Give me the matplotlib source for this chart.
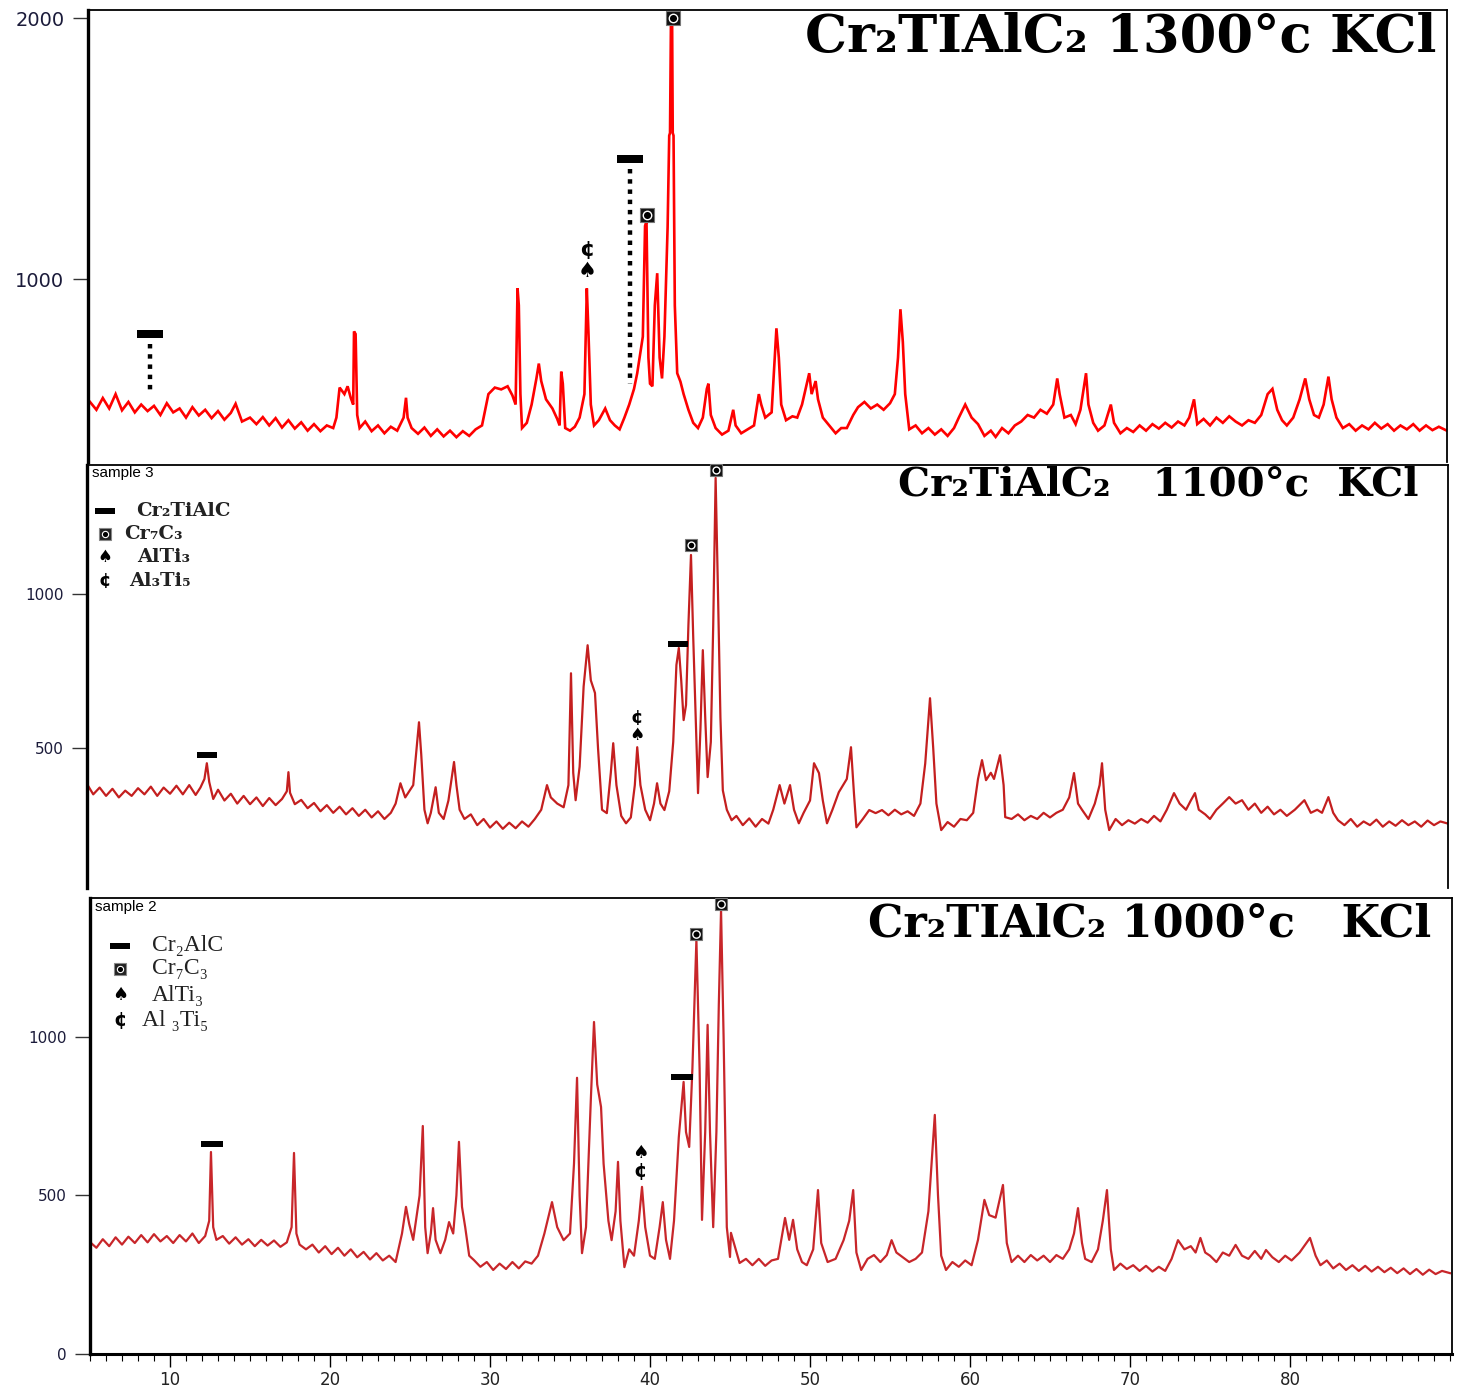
import numpy as np
import matplotlib.pyplot as plt

# XRD patterns (2theta, counts)
pattern_1300 = [
    (5.0, 530), (5.4, 500), (5.8, 545), (6.2, 505), (6.6, 560), (7.0, 498), (7.4, 530), (7.8, 490),
    (8.2, 520), (8.6, 495), (9.0, 515), (9.4, 480), (9.8, 525), (10.2, 490), (10.6, 505), (11.0, 470),
    (11.4, 510), (11.8, 478), (12.2, 500), (12.6, 468), (13.0, 495), (13.4, 462), (13.8, 488), (14.1, 523),
    (14.5, 455), (15.0, 470), (15.4, 445), (15.8, 472), (16.2, 440), (16.6, 468), (17.0, 432), (17.4, 460),
    (17.8, 428), (18.2, 452), (18.6, 420), (19.0, 445), (19.4, 418), (19.8, 440), (20.2, 430), (20.4, 470),
    (20.6, 585), (20.9, 560), (21.1, 590), (21.3, 545), (21.45, 520), (21.5, 800), (21.6, 790), (21.7, 480),
    (21.85, 430), (22.2, 455), (22.6, 418), (23.0, 440), (23.4, 410), (23.8, 435), (24.2, 420), (24.6, 470),
    (24.75, 546), (24.85, 470), (25.1, 430), (25.5, 408), (25.9, 432), (26.3, 400), (26.7, 425), (27.1, 398),
    (27.5, 420), (27.9, 395), (28.3, 418), (28.7, 400), (29.1, 425), (29.5, 440), (29.9, 560), (30.3, 585),
    (30.7, 578), (31.1, 590), (31.4, 555), (31.6, 520), (31.72, 965), (31.8, 900), (31.9, 560), (32.0, 430),
    (32.3, 450), (32.6, 520), (32.9, 620), (33.05, 677), (33.2, 610), (33.5, 540), (33.9, 505), (34.2, 465),
    (34.35, 440), (34.45, 646), (34.55, 600), (34.7, 430), (35.0, 420), (35.3, 435), (35.6, 470), (35.9, 560),
    (36.05, 965), (36.15, 800), (36.3, 520), (36.5, 440), (36.8, 460), (37.2, 505), (37.5, 460), (37.8, 440),
    (38.1, 425), (38.4, 470), (38.7, 520), (39.0, 580), (39.2, 640), (39.4, 720), (39.55, 780), (39.69, 1204),
    (39.78, 1223), (39.9, 700), (40.0, 600), (40.15, 590), (40.3, 900), (40.45, 1023), (40.6, 700), (40.75, 620),
    (40.9, 780), (41.1, 1200), (41.2, 1550), (41.25, 1560), (41.31, 2000), (41.38, 2000), (41.42, 1560),
    (41.47, 1550), (41.55, 900),
    (41.7, 640), (41.9, 608), (42.1, 560), (42.4, 500), (42.7, 450), (43.0, 430), (43.3, 470), (43.55, 580),
    (43.65, 600), (43.8, 480), (44.1, 430), (44.5, 405), (44.9, 420), (45.2, 500), (45.35, 440), (45.7, 410),
    (46.1, 425), (46.5, 440), (46.8, 560), (46.95, 520), (47.2, 470), (47.6, 490), (47.9, 812), (48.05, 700),
    (48.2, 520), (48.5, 460), (48.9, 475), (49.2, 470), (49.5, 520), (49.8, 600), (49.95, 640), (50.1, 560),
    (50.35, 610), (50.5, 540), (50.8, 470), (51.2, 440), (51.6, 410), (51.95, 430), (52.3, 430), (52.7, 480),
    (53.0, 510), (53.4, 530), (53.8, 505), (54.2, 520), (54.6, 500), (55.0, 525), (55.3, 560), (55.5, 700),
    (55.65, 885), (55.8, 760), (55.95, 560), (56.2, 425), (56.6, 440), (57.0, 410), (57.4, 430), (57.8, 405),
    (58.2, 425), (58.6, 400), (59.0, 430), (59.3, 470), (59.7, 520), (60.1, 470), (60.5, 445), (60.9, 400),
    (61.3, 420), (61.6, 396), (62.0, 430), (62.4, 410), (62.8, 440), (63.2, 455), (63.6, 480), (64.0, 470),
    (64.4, 500), (64.8, 485), (65.2, 520), (65.45, 620), (65.6, 560), (65.9, 470), (66.3, 480), (66.6, 445),
    (66.9, 500), (67.25, 640), (67.4, 520), (67.7, 450), (68.0, 420), (68.4, 440), (68.8, 520), (69.0, 450),
    (69.4, 410), (69.8, 430), (70.2, 415), (70.6, 440), (71.0, 420), (71.4, 445), (71.8, 428), (72.2, 450),
    (72.6, 432), (73.0, 455), (73.4, 440), (73.7, 470), (74.0, 540), (74.2, 445), (74.6, 465), (75.0, 440),
    (75.4, 470), (75.8, 450), (76.2, 475), (76.6, 455), (77.0, 440), (77.4, 460), (77.8, 450), (78.2, 480),
    (78.6, 560), (78.9, 580), (79.2, 500), (79.5, 460), (79.8, 440), (80.2, 470), (80.6, 540), (80.95, 620),
    (81.2, 540), (81.5, 480), (81.8, 470), (82.1, 520), (82.4, 627), (82.6, 540), (82.9, 470), (83.3, 430),
    (83.7, 445), (84.1, 420), (84.5, 440), (84.9, 425), (85.3, 450), (85.7, 428), (86.1, 445), (86.5, 420),
    (86.9, 440), (87.3, 425), (87.7, 445), (88.1, 420), (88.5, 440), (88.9, 422), (89.3, 435), (89.8, 420),
]

pattern_1100 = [
    (4.85, 380), (5.2, 350), (5.6, 372), (6.0, 345), (6.4, 368), (6.8, 340), (7.2, 362), (7.6, 345),
    (8.0, 370), (8.4, 350), (8.8, 375), (9.2, 345), (9.6, 372), (10.0, 352), (10.4, 378), (10.8, 350),
    (11.2, 380), (11.6, 348), (11.9, 372), (12.15, 400), (12.3, 451), (12.45, 390), (12.7, 335), (13.0, 365),
    (13.4, 330), (13.8, 352), (14.2, 320), (14.6, 345), (15.0, 318), (15.4, 340), (15.8, 312), (16.2, 338),
    (16.6, 315), (17.0, 335), (17.3, 360), (17.4, 422), (17.5, 355), (17.8, 318), (18.2, 332), (18.6, 305),
    (19.0, 322), (19.4, 295), (19.8, 315), (20.2, 290), (20.6, 310), (21.0, 285), (21.4, 305), (21.8, 280),
    (22.2, 300), (22.6, 275), (23.0, 295), (23.4, 270), (23.8, 290), (24.1, 320), (24.4, 386), (24.7, 340),
    (25.2, 380), (25.45, 520), (25.56, 584), (25.7, 480), (25.9, 300), (26.1, 256), (26.3, 290), (26.6, 373),
    (26.8, 290), (27.1, 270), (27.4, 330), (27.75, 455), (27.9, 380), (28.1, 300), (28.4, 270), (28.8, 285),
    (29.2, 250), (29.6, 270), (30.0, 242), (30.4, 262), (30.8, 238), (31.2, 258), (31.6, 240), (32.0, 262),
    (32.4, 245), (32.8, 270), (33.2, 300), (33.56, 380), (33.8, 340), (34.2, 320), (34.6, 308), (34.9, 380),
    (35.06, 743), (35.2, 420), (35.35, 331), (35.6, 440), (35.85, 700), (36.1, 834), (36.3, 720), (36.56, 679),
    (36.75, 500), (37.0, 300), (37.3, 289), (37.55, 420), (37.7, 516), (37.9, 380), (38.2, 280), (38.5, 256),
    (38.8, 275), (39.05, 380), (39.2, 503), (39.4, 380), (39.7, 300), (40.0, 266), (40.25, 320), (40.44, 386),
    (40.65, 320), (40.9, 299), (41.2, 360), (41.45, 520), (41.65, 770), (41.8, 825), (41.95, 720), (42.1, 591),
    (42.25, 640), (42.4, 900), (42.56, 1127), (42.7, 860), (42.9, 520), (43.0, 354), (43.15, 560), (43.3, 818),
    (43.45, 600), (43.6, 406), (43.8, 520), (43.95, 900), (44.1, 1377), (44.25, 1000), (44.4, 600), (44.55, 363),
    (44.8, 300), (45.1, 266), (45.4, 280), (45.8, 250), (46.2, 272), (46.6, 245), (47.0, 270), (47.4, 255),
    (47.7, 300), (48.1, 380), (48.4, 320), (48.75, 380), (49.0, 300), (49.3, 256), (49.6, 290), (50.0, 330),
    (50.25, 451), (50.56, 419), (50.8, 330), (51.06, 256), (51.4, 300), (51.8, 357), (52.3, 400), (52.56, 503),
    (52.75, 350), (52.9, 243), (53.3, 270), (53.7, 299), (54.1, 289), (54.5, 299), (54.9, 282), (55.3, 300),
    (55.7, 285), (56.1, 295), (56.5, 280), (56.9, 320), (57.2, 450), (57.5, 662), (57.7, 500), (57.9, 320),
    (58.2, 234), (58.6, 260), (59.0, 245), (59.4, 270), (59.8, 266), (60.2, 290), (60.5, 400), (60.75, 461),
    (61.0, 396), (61.3, 420), (61.5, 400), (61.875, 477), (62.1, 380), (62.2, 276), (62.6, 270), (63.0, 285),
    (63.4, 266), (63.8, 280), (64.2, 270), (64.6, 290), (65.0, 275), (65.4, 290), (65.8, 300), (66.2, 340),
    (66.5, 419), (66.75, 320), (67.0, 300), (67.4, 270), (67.8, 320), (68.1, 380), (68.25, 451), (68.45, 300),
    (68.7, 234), (69.1, 270), (69.5, 250), (69.9, 266), (70.3, 255), (70.7, 270), (71.1, 258), (71.5, 280),
    (71.9, 262), (72.3, 300), (72.75, 354), (73.1, 320), (73.5, 300), (73.8, 330), (74.06, 354), (74.3, 300),
    (74.7, 285), (75.0, 270), (75.4, 300), (75.8, 320), (76.2, 341), (76.6, 320), (77.0, 331), (77.4, 300),
    (77.8, 320), (78.2, 290), (78.6, 310), (79.0, 285), (79.4, 300), (79.8, 280), (80.3, 300), (80.9, 331),
    (81.3, 290), (81.7, 300), (82.0, 290), (82.4, 341), (82.7, 290), (83.0, 266), (83.4, 250), (83.8, 270),
    (84.2, 245), (84.6, 262), (85.0, 250), (85.4, 268), (85.8, 245), (86.2, 262), (86.6, 248), (87.0, 266),
    (87.4, 250), (87.8, 262), (88.2, 245), (88.6, 265), (89.0, 250), (89.4, 262), (89.875, 255),
]

pattern_1000 = [
    (5.0, 353), (5.4, 335), (5.8, 362), (6.2, 340), (6.6, 368), (7.0, 345), (7.4, 370), (7.8, 350),
    (8.2, 375), (8.6, 352), (9.0, 378), (9.4, 355), (9.8, 372), (10.2, 350), (10.6, 375), (11.0, 355),
    (11.4, 380), (11.8, 350), (12.2, 372), (12.45, 420), (12.56, 637), (12.7, 400), (12.9, 360), (13.3, 372),
    (13.7, 348), (14.1, 368), (14.5, 345), (14.9, 362), (15.3, 340), (15.7, 360), (16.1, 342), (16.5, 358),
    (16.9, 338), (17.3, 352), (17.6, 400), (17.75, 634), (17.9, 380), (18.1, 345), (18.5, 330), (18.9, 345),
    (19.3, 320), (19.7, 340), (20.1, 315), (20.5, 335), (20.9, 310), (21.3, 330), (21.7, 305), (22.1, 322),
    (22.5, 298), (22.9, 318), (23.3, 295), (23.7, 310), (24.1, 290), (24.5, 380), (24.75, 464), (24.95, 410),
    (25.2, 360), (25.6, 500), (25.8, 719), (25.95, 400), (26.1, 318), (26.3, 380), (26.44, 460), (26.6, 360),
    (26.9, 318), (27.2, 360), (27.44, 416), (27.7, 380), (27.9, 500), (28.06, 669), (28.25, 464), (28.45, 400),
    (28.7, 310), (29.0, 296), (29.4, 275), (29.8, 290), (30.2, 265), (30.6, 285), (31.0, 268), (31.4, 290),
    (31.8, 270), (32.2, 292), (32.6, 285), (33.0, 310), (33.4, 380), (33.875, 479), (34.2, 400), (34.6, 359),
    (35.0, 380), (35.25, 600), (35.44, 871), (35.6, 500), (35.75, 318), (36.0, 400), (36.3, 800), (36.5, 1047),
    (36.7, 850), (36.94, 779), (37.1, 600), (37.4, 420), (37.6, 359), (37.85, 450), (38.0, 606), (38.15, 420),
    (38.4, 274), (38.7, 330), (39.0, 310), (39.3, 420), (39.5, 527), (39.7, 400), (40.0, 310), (40.3, 300),
    (40.6, 400), (40.8, 479), (41.0, 360), (41.25, 300), (41.5, 420), (41.8, 684), (42.1, 858), (42.25, 700),
    (42.45, 653), (42.65, 900), (42.9, 1306), (43.1, 900), (43.25, 423), (43.45, 700), (43.6, 1038), (43.75, 700),
    (43.95, 400), (44.15, 700), (44.3, 1100), (44.44, 1400), (44.6, 1000), (44.8, 400), (45.0, 306), (45.06, 382),
    (45.3, 340), (45.6, 287), (46.0, 300), (46.4, 280), (46.8, 300), (47.2, 278), (47.6, 295), (48.0, 300),
    (48.44, 429), (48.7, 360), (48.94, 423), (49.2, 330), (49.5, 290), (49.8, 280), (50.2, 330), (50.5, 517),
    (50.7, 350), (51.1, 290), (51.6, 300), (52.1, 359), (52.45, 420), (52.7, 517), (52.9, 320), (53.2, 265),
    (53.6, 300), (54.0, 312), (54.4, 290), (54.8, 312), (55.1, 359), (55.4, 320), (55.8, 305), (56.2, 290),
    (56.6, 300), (57.0, 320), (57.4, 450), (57.8, 754), (58.0, 500), (58.2, 310), (58.5, 265), (58.9, 290),
    (59.3, 275), (59.7, 295), (60.1, 280), (60.5, 360), (60.9, 486), (61.2, 438), (61.6, 430), (62.06, 533),
    (62.3, 350), (62.6, 290), (63.0, 310), (63.4, 290), (63.8, 312), (64.2, 295), (64.6, 310), (65.0, 290),
    (65.4, 312), (65.8, 300), (66.2, 330), (66.5, 380), (66.75, 460), (67.0, 350), (67.2, 300), (67.6, 290),
    (68.0, 330), (68.3, 420), (68.56, 517), (68.8, 330), (69.0, 265), (69.4, 285), (69.8, 268), (70.2, 280),
    (70.6, 262), (71.0, 278), (71.4, 260), (71.8, 275), (72.2, 262), (72.6, 300), (73.0, 359), (73.4, 330),
    (73.8, 340), (74.1, 320), (74.4, 366), (74.7, 320), (75.0, 310), (75.4, 290), (75.8, 320), (76.2, 310),
    (76.6, 344), (77.0, 310), (77.4, 300), (77.8, 325), (78.2, 300), (78.5, 328), (78.9, 305), (79.3, 290),
    (79.7, 310), (80.1, 295), (80.6, 320), (81.25, 366), (81.6, 310), (81.9, 280), (82.3, 295), (82.7, 270),
    (83.1, 285), (83.5, 265), (83.9, 280), (84.3, 262), (84.7, 278), (85.1, 260), (85.5, 275), (85.9, 258),
    (86.3, 272), (86.7, 255), (87.1, 270), (87.5, 252), (87.9, 268), (88.3, 250), (88.7, 266), (89.1, 252),
    (89.5, 262), (90.0, 255),
]

# phase markers (2theta, height)
bars_1300 = [(8.75, 792), (38.75, 1462)]
bar_drops_1300 = [562, 600]
cr7c3_1300 = [(39.8, 1246), (41.44, 2000)]
spade_1300 = [(36.06, 1031)]
al3ti5_1300 = [(36.06, 1112)]

bars_1100 = [(12.3, 477), (41.75, 838)]
cr7c3_1100 = [(42.56, 1159), (44.1, 1403)]
spade_1100 = [(39.19, 542)]
al3ti5_1100 = [(39.19, 597)]

bars_1000 = [(12.6, 662), (42.0, 874)]
cr7c3_1000 = [(42.9, 1325), (44.44, 1420)]
spade_1000 = [(39.4, 634)]
al3ti5_1000 = [(39.4, 574)]

legend_1100 = ['Cr₂TiAlC', 'Cr₇C₃', 'AlTi₃', 'Al₃Ti₅']
legend_1000 = ['Cr₂AlC', 'Cr₇C₃', 'AlTi₃', 'Al ₃Ti₅']

titles = ['Cr₂TIAlC₂ 1300°c KCl', 'Cr₂TiAlC₂   1100°c  KCl', 'Cr₂TIAlC₂ 1000°c   KCl']

W, H = 1462, 1386
fig = plt.figure(figsize=(W / 100, H / 100), dpi=100)


def box(l, t, r, b):
    return [l / W, 1 - b / H, (r - l) / W, (b - t) / H]


ax1 = fig.add_axes(box(88, 10, 1447, 462))
ax2 = fig.add_axes(box(87, 465, 1448, 888))
ax3 = fig.add_axes(box(90, 898, 1452, 1354))

bar_marker = [(-2, -0.55), (2, -0.55), (2, 0.55), (-2, 0.55), (-2, -0.55)]
title_font = ['DejaVu Serif']
serif = ['Liberation Serif', 'DejaVu Serif']


def draw_markers(ax, bars, cr7c3, spade, al3ti5, ms):
    for x, y in bars:
        ax.plot(x, y, marker=bar_marker, ms=ms * 1.15, color='black', mew=0, clip_on=False, zorder=5)
    for x, y in cr7c3:
        ax.plot(x, y, marker='s', ms=ms * 0.62, color='#111111', mec='#777777', mew=0.8, clip_on=False, zorder=5)
        ax.plot(x, y, marker='o', ms=ms * 0.38, mfc='black', mec='white', mew=1.0, clip_on=False, zorder=6)
    for x, y in spade:
        ax.text(x, y, '♠', fontsize=ms * 0.95, ha='center', va='center', family='DejaVu Sans', zorder=5)
    for x, y in al3ti5:
        ax.text(x, y, '¢', fontsize=ms * 1.0, ha='center', va='center', family='DejaVu Sans',
                fontweight='bold', zorder=5)


def style(ax, ylim, xlim, yticks, fs):
    ax.set_xlim(*xlim)
    ax.set_ylim(*ylim)
    ax.set_yticks(yticks)
    ax.tick_params(axis='y', direction='out', length=11, width=1, color='#333333',
                   labelsize=fs, labelcolor='#1b1b3a', pad=6)
    ax.spines['left'].set_linewidth(2.4)
    ax.spines['top'].set_linewidth(1.3)
    ax.spines['right'].set_linewidth(1.3)
    for s in ax.spines.values():
        s.set_color('black')


# top panel
x, y = np.array(pattern_1300).T
ax1.plot(x, y, color='#ff0000', lw=1.9, solid_joinstyle='miter')
style(ax1, (300, 2031), (4.875, 89.81), [1000, 2000], 14)
ax1.spines['bottom'].set_visible(False)
ax1.set_xticks([])
draw_markers(ax1, bars_1300, cr7c3_1300, spade_1300, al3ti5_1300, 16)
for (bx, by), drop in zip(bars_1300, bar_drops_1300):
    ax1.plot([bx, bx], [by - 40, drop], color='black', lw=3.2, ls=(0, (1, 1.3)))
ax1.text(0.992, 0.94, titles[0], transform=ax1.transAxes, ha='right', va='center',
         fontsize=38, fontweight='bold', family=title_font)

# middle panel
x, y = np.array(pattern_1100).T
ax2.plot(x, y, color='#c41f1f', lw=1.6)
style(ax2, (46, 1419), (4.81, 89.875), [500, 1000], 11)
ax2.spines['bottom'].set_visible(False)
ax2.set_xticks([])
draw_markers(ax2, bars_1100, cr7c3_1100, spade_1100, al3ti5_1100, 13)
ax2.text(0.978, 0.955, titles[1], transform=ax2.transAxes, ha='right', va='center',
         fontsize=29, fontweight='bold', family=title_font)
ax2.text(0.004, 0.981, 'sample 3', transform=ax2.transAxes, ha='left', va='center',
         fontsize=11, family=['Liberation Sans', 'DejaVu Sans'])
rows2 = [0.891, 0.836, 0.783, 0.726]
ax2.plot(0.0132, rows2[0], transform=ax2.transAxes, marker=bar_marker, ms=14, color='black', mew=0)
ax2.plot(0.0132, rows2[1], transform=ax2.transAxes, marker='s', ms=8, color='#222222', mec='#888888', mew=0.8)
ax2.plot(0.0132, rows2[1], transform=ax2.transAxes, marker='o', ms=4.5, mfc='black', mec='white', mew=0.8)
ax2.text(0.0132, rows2[2], '♠', transform=ax2.transAxes, ha='center', va='center', fontsize=12, family='DejaVu Sans')
ax2.text(0.0132, rows2[3], '¢', transform=ax2.transAxes, ha='center', va='center', fontsize=13,
         family='DejaVu Sans', fontweight='bold')
for r, lab, dx in zip(rows2, legend_1100, [0.036, 0.027, 0.037, 0.031]):
    ax2.text(dx, r, lab, transform=ax2.transAxes, ha='left', va='center', fontsize=14,
             fontweight='bold', family=title_font, color='#222222')

# bottom panel
x, y = np.array(pattern_1000).T
ax3.plot(x, y, color='#c8262a', lw=1.6)
style(ax3, (0, 1438), (5.0, 90.125), [0, 500, 1000], 11)
ax3.spines['bottom'].set_linewidth(2.2)
ax3.set_xticks(np.arange(10, 90, 10))
ax3.set_xticks(np.arange(5, 91, 1), minor=True)
ax3.tick_params(axis='x', which='major', direction='out', length=9, width=1, labelsize=12,
                labelcolor='#222222', pad=3)
ax3.tick_params(axis='x', which='minor', direction='out', length=5, width=0.8)
for t in ax3.get_xticklabels():
    t.set_family(['Liberation Sans Narrow', 'DejaVu Sans'])
draw_markers(ax3, bars_1000, cr7c3_1000, spade_1000, al3ti5_1000, 14)
ax3.text(0.985, 0.943, titles[2], transform=ax3.transAxes, ha='right', va='center',
         fontsize=32, fontweight='bold', family=title_font)
ax3.text(0.004, 0.980, 'sample 2', transform=ax3.transAxes, ha='left', va='center',
         fontsize=11, family=['Liberation Sans', 'DejaVu Sans'])
rows3 = [0.895, 0.845, 0.787, 0.732]
ax3.plot(0.022, rows3[0], transform=ax3.transAxes, marker=bar_marker, ms=15, color='black', mew=0)
ax3.plot(0.022, rows3[1], transform=ax3.transAxes, marker='s', ms=8, color='#222222', mec='#888888', mew=0.8)
ax3.plot(0.022, rows3[1], transform=ax3.transAxes, marker='o', ms=4.5, mfc='black', mec='white', mew=0.8)
ax3.text(0.022, rows3[2], '♠', transform=ax3.transAxes, ha='center', va='center', fontsize=13, family='DejaVu Sans')
ax3.text(0.022, rows3[3], '¢', transform=ax3.transAxes, ha='center', va='center', fontsize=14,
         family='DejaVu Sans', fontweight='bold')
for r, lab in zip(rows3, legend_1000):
    ax3.text(0.0455 if lab != 'Al ₃Ti₅' else 0.038, r, lab, transform=ax3.transAxes, ha='left', va='center',
             fontsize=17, family=serif, color='#222222')

fig.savefig('out.png', dpi=100)
